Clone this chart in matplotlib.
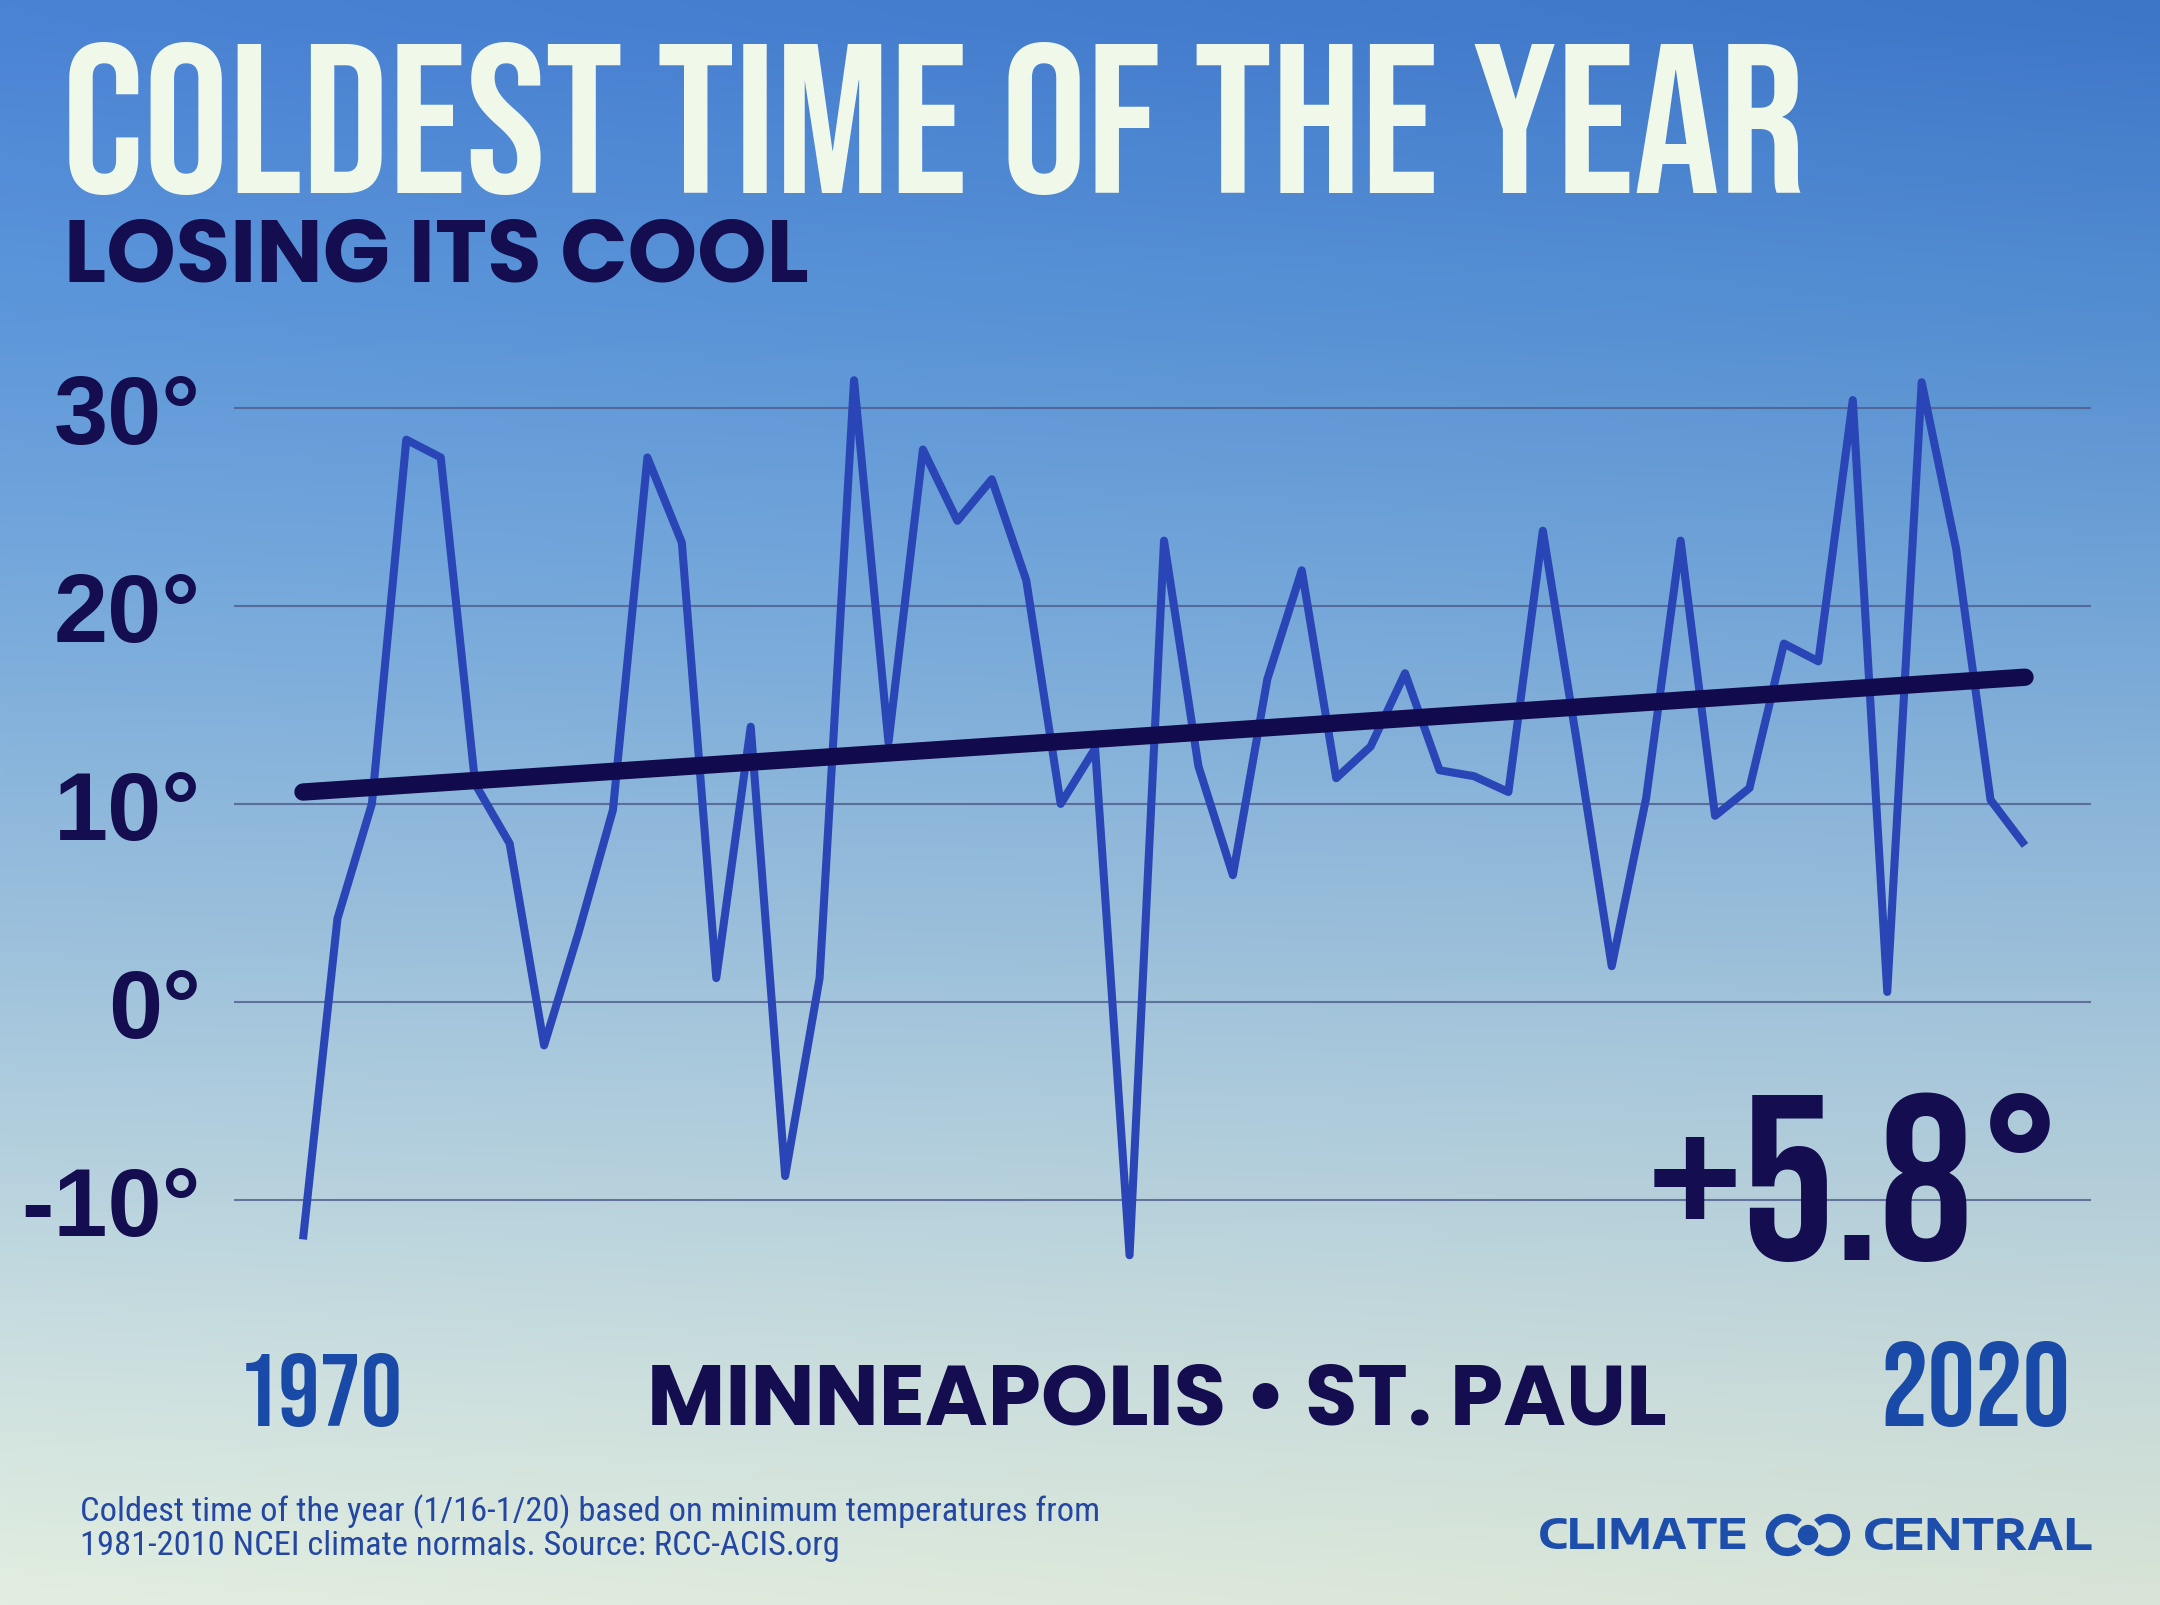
import numpy as np
import matplotlib
matplotlib.use('Agg')
import matplotlib.pyplot as plt
from matplotlib.patches import Arc, Circle

# --- data ---
years = list(range(1970, 2021))
coldest_temps = [-12.0, 4.2, 10.0, 28.4, 27.5, 11.0, 8.0, -2.2, 3.5, 9.7,
                 27.5, 23.2, 1.2, 13.9, -8.8, 1.2, 31.4, 13.1, 27.9, 24.3,
                 26.4, 21.3, 10.0, 12.8, -12.8, 23.3, 11.9, 6.4, 16.3, 21.8,
                 11.3, 12.9, 16.6, 11.7, 11.4, 10.6, 23.8, 13.0, 1.8, 10.3,
                 23.3, 9.4, 10.8, 18.1, 17.2, 30.4, 0.5, 31.3, 22.9, 10.2,
                 7.9]
trend_years = [1970, 2020]
trend_temps = [10.6, 16.4]
y_ticks = [-10, 0, 10, 20, 30]
y_tick_labels = ['-10°', '0°', '10°', '20°', '30°']

W, H = 2160, 1606
NAVY = '#140d50'
fig = plt.figure(figsize=(W / 100, H / 100), dpi=100)

# background gradient (whole figure)
bg = fig.add_axes([0, 0, 1, 1])
bg.set_zorder(-2)
ys = np.linspace(0, H, 200)
xs = np.linspace(0, W, 200)
stops_y = [0, 300, 600, 900, 1150, 1400, H]
stops_rgb = np.array([(74, 130, 212), (92, 150, 218), (120, 170, 220), (152, 190, 220),
                      (180, 208, 222), (208, 226, 224), (226, 238, 224)]) / 255.0
col = np.stack([np.interp(ys, stops_y, stops_rgb[:, c]) for c in range(3)], axis=-1)
img = np.repeat(col[:, None, :], len(xs), axis=1)
xx, yy = np.meshgrid(xs / W, ys / H)
shade = 0.05 * xx * np.clip(1 - yy * 1.5, 0, 1) + 0.04 * xx * np.clip(yy * 2 - 1, 0, 1)
img = np.clip(img - shade[..., None], 0, 1)
bg.imshow(img, extent=[0, W, H, 0], aspect='auto', interpolation='bilinear')
bg.set_xlim(0, W)
bg.set_ylim(H, 0)
bg.axis('off')

# main chart
ax = fig.add_axes([234 / W, 1 - 1280 / H, (2091 - 234) / W, (1280 - 349.6) / H])
ax.patch.set_alpha(0)
ax.set_xlim(1970 - 69 / 34.44, 2020 + 66 / 34.44)
ax.set_ylim(-14, 33)
for s in ax.spines.values():
    s.set_visible(False)
ax.set_xticks([])
ax.set_yticks(y_ticks)
ax.set_yticklabels(y_tick_labels, fontsize=70, fontweight='bold', color=NAVY,
                   family=['Liberation Sans', 'DejaVu Sans'])
ax.tick_params(axis='y', length=0, pad=24)
ax.grid(axis='y', color='#4f5c8c', linewidth=1.5, alpha=0.8)
ax.set_axisbelow(True)

ax.plot(years, coldest_temps, color='#2a46b6', linewidth=5.8,
        solid_joinstyle='round', solid_capstyle='butt', zorder=3)
ax.plot(trend_years, trend_temps, color='#110a4c', linewidth=12.5,
        solid_capstyle='round', zorder=4)

# overlay in pixel coordinates for texts and logo
ov = fig.add_axes([0, 0, 1, 1])
ov.set_zorder(5)
ov.patch.set_alpha(0)
ov.set_xlim(0, W)
ov.set_ylim(H, 0)
ov.axis('off')

BEBAS = ['Bebas Neue', 'DejaVu Sans']
GEO = ['Poppins', 'DejaVu Sans']
title = ov.text(62, 193, 'COLDEST TIME OF THE YEAR', fontsize=200,
                color='#f0f8ea', family=BEBAS, ha='left', va='baseline')
sub = ov.text(64, 281, 'LOSING ITS COOL', fontsize=60, fontweight='bold', color=NAVY,
              family=GEO, ha='left', va='baseline')

y1970 = ov.text(320, 1426, '1970', fontsize=110, color='#1a4aa8',
                family=BEBAS, ha='center', va='baseline')
y2020 = ov.text(1975, 1426, '2020', fontsize=110, color='#1a4aa8',
                family=BEBAS, ha='center', va='baseline')
city = ov.text(1157, 1425, 'MINNEAPOLIS • ST. PAUL', fontsize=58, fontweight='bold',
               color=NAVY, family=GEO, ha='center', va='baseline')
big = ov.text(2068, 1260, '+5.8°', fontsize=260, color=NAVY,
              family=BEBAS, ha='right', va='baseline')

FOOT = ['Roboto Condensed', 'DejaVu Sans']
note1 = ov.text(80, 1512, 'Coldest time of the year (1/16-1/20) based on minimum temperatures from',
                fontsize=24, color='#2347a3', family=FOOT, ha='left', va='center')
note2 = ov.text(80, 1546, '1981-2010 NCEI climate normals. Source: RCC-ACIS.org',
                fontsize=24, color='#2347a3', family=FOOT, ha='left', va='center')

# Climate Central wordmark
LOGO = '#1d4eab'
WIDE = ['Encode Sans Expanded', 'DejaVu Sans']
cl = ov.text(1538, 1537, 'CLIMATE', fontsize=28, fontweight='bold', color=LOGO,
             family=WIDE, ha='left', va='center')
ce = ov.text(2093, 1537, 'CENTRAL', fontsize=28, fontweight='bold', color=LOGO,
             family=WIDE, ha='right', va='center')
ov.add_patch(Arc((1787, 1536), 34, 34, theta1=45, theta2=315, lw=6, color=LOGO))
ov.add_patch(Arc((1829, 1536), 34, 34, theta1=-135, theta2=135, lw=6, color=LOGO))
ov.add_patch(Circle((1808, 1536), 9.5, color=LOGO))

# size texts to the widths they take in the reference
renderer = fig.canvas.get_renderer()
for t, width in [(title, 1743), (sub, 745), (y1970, 165), (y2020, 190), (city, 1020),
                 (big, 420), (note1, 1022), (cl, 210), (ce, 230)]:
    w = t.get_window_extent(renderer).width
    t.set_fontsize(t.get_fontsize() * width / w)
note2.set_fontsize(note1.get_fontsize())

fig.savefig('out.png', dpi=100)
